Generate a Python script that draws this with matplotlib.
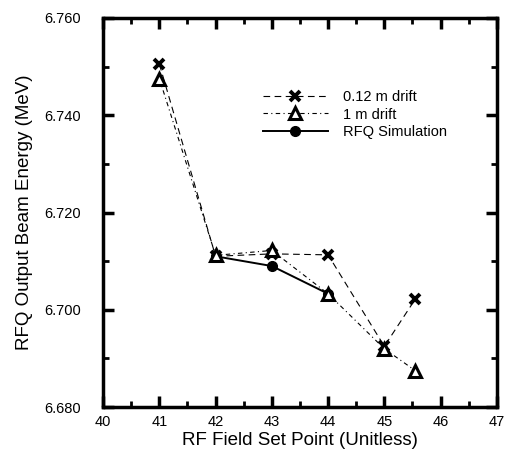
import matplotlib
matplotlib.use("Agg")
import matplotlib.pyplot as plt
from matplotlib.ticker import MultipleLocator, FormatStrFormatter

plt.rcParams['font.family'] = ['Liberation Sans', 'DejaVu Sans']

x_012 = [41, 42, 43, 44, 45, 45.55]
y_012 = [6.7505, 6.711, 6.7115, 6.7113, 6.6925, 6.7022]
x_1m = [41, 42, 43, 44, 45, 45.55]
y_1m = [6.7475, 6.7112, 6.7122, 6.7033, 6.692, 6.6875]
x_sim = [42, 43, 44]
y_sim = [6.711, 6.709, 6.7033]

fig = plt.figure(figsize=(5.08, 4.59), dpi=100)
ax = fig.add_axes([0.203, 0.113, 0.775, 0.848])

ax.plot(x_012, y_012, color='black', linestyle=(0, (6, 4)), linewidth=0.8,
        marker='x', markersize=7, markeredgewidth=2.8, label='0.12 m drift', zorder=3)
ax.plot(x_1m, y_1m, color='black', linestyle=(0, (4, 3, 1, 3)), linewidth=0.8,
        marker='^', markersize=8, markerfacecolor='white', markeredgewidth=2.2,
        label='1 m drift', zorder=4)
ax.plot(x_sim, y_sim, color='black', linestyle='-', linewidth=1.4,
        marker='o', markersize=7, markerfacecolor='black', label='RFQ Simulation', zorder=2)

ax.set_xlim(40, 47)
ax.set_ylim(6.680, 6.760)
ax.xaxis.set_major_locator(MultipleLocator(1))
ax.xaxis.set_minor_locator(MultipleLocator(0.5))
ax.yaxis.set_major_locator(MultipleLocator(0.02))
ax.yaxis.set_minor_locator(MultipleLocator(0.01))
ax.yaxis.set_major_formatter(FormatStrFormatter('%.3f'))

ax.tick_params(which='both', direction='in', top=True, right=True, labelsize=10.5, width=2)
ax.tick_params(axis='x', which='both', pad=6)
ax.tick_params(axis='y', which='both', pad=16)
ax.tick_params(which='major', length=8, width=2.5)
ax.tick_params(which='minor', length=4)
for s in ax.spines.values():
    s.set_linewidth(2.5)

ax.set_xlabel('RF Field Set Point (Unitless)', fontsize=13.5, labelpad=2)
ax.set_ylabel('RFQ Output Beam Energy (MeV)', fontsize=13.5, labelpad=8)

leg = ax.legend(loc='upper left', bbox_to_anchor=(0.39, 0.83), frameon=False, fontsize=10.5,
                handlelength=4.5, handletextpad=1.0, labelspacing=0.25, borderaxespad=0)

fig.savefig('out.png', dpi=100)
